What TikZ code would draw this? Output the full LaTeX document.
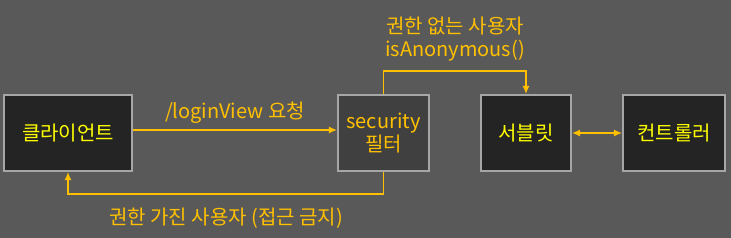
\documentclass[tikz,border=0pt]{standalone}
\usepackage{fontspec}
\setmainfont{Noto Sans CJK KR}
\usepackage{xcolor}
\usetikzlibrary{arrows.meta,calc,positioning}
\definecolor{bggray}{HTML}{595959}
\definecolor{boxdark}{HTML}{242424}
\definecolor{boxmid}{HTML}{404040}
\definecolor{edgegray}{HTML}{A6A6A6}
\definecolor{flowline}{HTML}{FFC000}
\definecolor{boxtext}{HTML}{FFFF00}
\tikzset{
  compbox/.style={draw=edgegray,line width=2.2pt,fill=boxdark,text=boxtext,minimum height=76pt,inner sep=0pt},
  flow/.style={draw=flowline,line width=1.2pt,-{Latex[length=8pt,width=7pt]}},
  flowlabel/.style={text=flowline}
}
\begin{document}
\begin{tikzpicture}[x=1pt,y=1pt,every node/.style={font=\fontsize{20}{23}\selectfont}]
  \fill[bggray] (0,0) rectangle (731,238);
  \useasboundingbox (0,0) rectangle (731,238);
  % boxes
  \node[compbox,minimum width=128pt] (client) at (68,105){클라이언트};
  \node[compbox,minimum width=91pt,fill=boxmid,text=flowline,align=center] (filter) at (383.5,105){security\\[0pt]필터};
  \node[compbox,minimum width=90pt] (servlet) at (526,105){서블릿};
  \node[compbox,minimum width=102pt] (controller) at (674,105){컨트롤러};
  % connectors
  \draw[flow] ([yshift=3pt]client.east) -- ([yshift=3pt]filter.west)
    node[flowlabel,midway,above=3pt]{/loginView 요청};
  \coordinate (backlane) at (0,44);
  \draw[flow] (filter.south) |- (backlane -| client.south) -- (client.south);
  \node[flowlabel] (denied) at (226,20){권한 가진 사용자 (접근 금지)};
  \coordinate (toplane) at (0,167);
  \draw[flow] (filter.north) |- (toplane -| servlet.north) -- (servlet.north);
  \node[flowlabel,align=center] (anon) at (455,199){권한 없는 사용자\\[0pt]isAnonymous()};
  \draw[flow,{Latex[length=8pt,width=7pt]}-{Latex[length=8pt,width=7pt]}] (servlet.east) -- (controller.west);
\end{tikzpicture}
\end{document}
